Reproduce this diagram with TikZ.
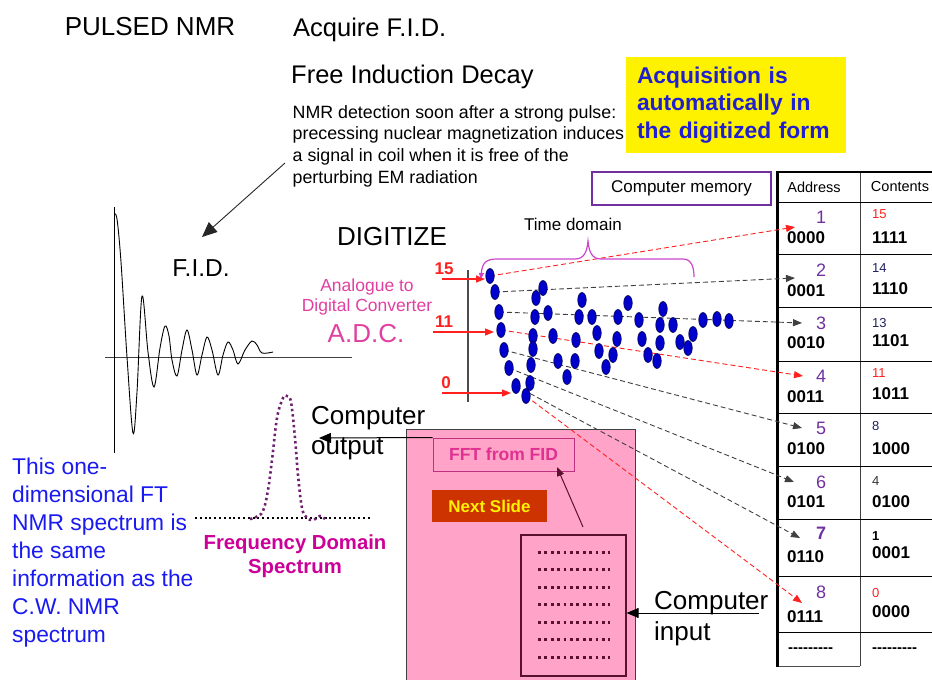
\documentclass[tikz,border=0pt]{standalone}
\usepackage{fontspec}
\setmainfont{Liberation Sans}
\usetikzlibrary{shapes.geometric,arrows.meta}
\definecolor{adcmag}{HTML}{E040A0}
\definecolor{fdmag}{HTML}{CC0099}
\definecolor{addrpur}{HTML}{7030A0}
\definecolor{pinkfill}{HTML}{FFA3C8}
\definecolor{dotblue}{HTML}{0000CC}
\definecolor{dotedge}{HTML}{000050}
\definecolor{txtblue}{HTML}{1A1AF0}
\definecolor{ybluetxt}{HTML}{2020D0}
\definecolor{navy}{HTML}{202060}
\definecolor{nextfill}{HTML}{CC3300}
\definecolor{maroon}{HTML}{5A1030}
\definecolor{bracemag}{HTML}{CC44CC}
\definecolor{dred}{HTML}{FF2020}
\definecolor{specpur}{HTML}{702070}
\definecolor{fftmag}{HTML}{E03090}
\definecolor{fftedge}{HTML}{C03080}
\newcommand{\fs}[2]{\fontsize{#1}{#2}\selectfont}
\newcommand{\hy}{\hbox{-}}
\begin{document}
\begin{tikzpicture}[x=1pt,y=-1pt,
  every node/.style={inner sep=0pt},
  blob/.style={ellipse, minimum width=8.5pt, minimum height=15pt, fill=dotblue, draw=dotedge, line width=0.6pt},
  reddash/.style={draw=dred, dash pattern=on 5pt off 3pt, line width=0.9pt, -{Triangle[length=9pt,width=7pt]}},
  blackdash/.style={draw=black!75, dash pattern=on 5pt off 3pt, line width=0.9pt, -{Triangle[length=9pt,width=7pt]}},
  redarrow/.style={draw=dred, line width=1.2pt, -{Triangle[length=9pt,width=7pt]}},
  blackarrow/.style={draw=black, line width=1pt, -{Triangle[length=12pt,width=10pt]}},
  addrnum/.style={text=addrpur, anchor=center},
  binval/.style={font=\bfseries\fs{17}{20}, anchor=west},
  tline/.style={draw=black, line width=1pt}]
\useasboundingbox (0,0) rectangle (932,680);

% ---------- titles ----------
\node[font=\fs{26}{29}] (pulsed) at (150,27) {PULSED NMR};
\node[font=\fs{25.5}{28}, anchor=base west] (acq) at (293,36) {Acquire F.I.D.};
\node[font=\fs{25.5}{28}, anchor=base west] (fid) at (291,83) {Free Induction Decay};
\node[font=\fs{17.8}{21.6}, anchor=base west, align=left] (para) at (292.5,183)
  {NMR detection soon after a strong pulse:\\precessing nuclear magnetization induces\\a signal in coil when it is free of the\\perturbing EM radiation};

% ---------- yellow box ----------
\node[fill=yellow, minimum width=220pt, minimum height=96pt, text width=198pt, inner xsep=11pt,
  align=left, font=\bfseries\fs{22.8}{27.5}, text=ybluetxt] (ybox) at (736,105)
  {Acquisition is\\automatically in\\the digitized form};

% ---------- computer memory ----------
\node[draw=addrpur, line width=1.2pt, minimum width=179pt, minimum height=33pt, font=\fs{17}{20}] (mem) at (681.5,188.5) {Computer memory};

% ---------- FID ----------
\draw[draw=black!75, line width=1pt] (105,357) -- (352,357);
\draw[draw=black, line width=1pt] (114,207) -- (114,453);
\draw[line width=0.9pt] plot[smooth, tension=0.55] coordinates {
 (114,214) (117,219) (121,262) (127,357) (133,433) (137,392) (142,296) (148,352)
 (154,387) (160,348) (165,326) (169,336) (172,360) (177,376) (182,350) (187,330)
 (192,350) (197,375) (202,355) (207,337) (212,350) (218,375) (223,355) (228,342)
 (233,350) (238,364) (245,350) (252,341) (257,345) (262,353) (273,352)};
\node[font=\fs{24.5}{26}] (fidlbl) at (201,268) {F.I.D.};
\coordinate (pstart) at (285,163);
\coordinate (ptip) at (202,237);
\draw[draw=black!85, line width=0.9pt, -{Triangle[length=15pt,width=13pt]}] (pstart) -- (ptip);

% ---------- ADC ----------
\node[font=\fs{26}{29}] (digit) at (392,237) {DIGITIZE};
\node[font=\fs{17.5}{20.5}, text=adcmag, align=center] (adcname) at (367,297) {Analogue to\\Digital Converter};
\node[font=\fs{26}{29}, text=adcmag] (adc) at (366,334) {A.D.C.};
\node[font=\bfseries\fs{17}{20}, text=dred] (l15) at (444,269) {15};
\node[font=\bfseries\fs{17}{20}, text=dred] (l11) at (444,322) {11};
\node[font=\bfseries\fs{17}{20}, text=dred] (l0) at (446,383) {0};
\draw[draw=black!70, line width=1.2pt] (468,270) -- (468,402);

% ---------- pink computer ----------
\draw[fill=pinkfill, draw=black!75, line width=1pt] (406,429) rectangle (635,690);
\node[draw=fftedge, line width=1pt, minimum width=141pt, minimum height=33pt, font=\bfseries\fs{17.5}{20}, text=fftmag] (fft) at (503.5,454.5) {FFT from FID};
\node[fill=nextfill, minimum width=115pt, minimum height=32pt, font=\bfseries\fs{17}{20}, text=yellow] (next) at (489.5,506) {Next Slide};
\node[draw=maroon, line width=1.2pt, minimum width=105pt, minimum height=141pt] (inner) at (573.5,605.5) {};
\foreach \k in {0,...,6}
  \draw[draw=maroon, dash pattern=on 2.8pt off 3.6pt, line width=3pt] (538,{552+17.5*\k}) -- (610,{552+17.5*\k});
\coordinate (istart) at (583,527);
\coordinate (itip) at (557,467);
\draw[draw=maroon, line width=1pt, -{Triangle[length=9pt,width=7pt]}] (istart) -- (itip);

\node[font=\fs{26}{30}, anchor=base west, align=left] (cout) at (311,454) {Computer\\output};
\coordinate (couttip) at (319,438);
\draw[blackarrow] (fft.north west) -- (couttip);
\node[font=\fs{26}{31}, anchor=base west, align=left] (cin) at (654,640) {Computer\\input};
\coordinate (cinstart) at (759,613);
\draw[blackarrow] (cinstart) -- (cinstart -| inner.east);

% ---------- spectrum ----------
\draw[draw=black, line width=2pt, dash pattern=on 2pt off 2.8pt] (195,518) -- (370,518);
\draw[draw=specpur, line width=2.6pt, dash pattern=on 2.4pt off 3pt] plot[smooth, tension=0.6] coordinates {
 (250,519) (256,517) (263,511) (268,490) (272,460) (277,418) (283,398) (287,396) (291,402)
 (295,438) (298,475) (302,508) (307,518) (313,520) (320,516) (325,519)};
\node[font=\bfseries\fs{20.3}{24.5}, text=fdmag, align=center] (fdlbl) at (295,556) {Frequency Domain\\Spectrum};
\node[font=\fs{22.8}{28}, text=txtblue, anchor=base west, align=left] (note) at (12,642)
  {This one-\\dimensional FT\\NMR spectrum is\\the same\\information as the\\C.W. NMR\\spectrum};

% ---------- table ----------
\draw[draw=black!75, line width=1pt] (860,172) -- (860,666);
\foreach \yy in {202,254,307,361,413,466,519,576,632}
  \draw[tline] (777,\yy) -- (935,\yy);
\draw[draw=black!70, line width=1pt] (777,666) -- (860,666);
\draw[draw=black, line width=2.5pt] (776,172) -- (935,172);
\draw[draw=black, line width=3pt] (777,171) -- (777,667);
\node[font=\fs{14.5}{17}] (haddr) at (814,187) {Address};
\node[font=\fs{14.5}{17}] (hcont) at (900,187) {Contents};

\foreach \r/\ny/\by/\bin/\cv/\cy/\cby/\cbin/\ccol/\nst in {
  1/217/238/0000/15/214/238/1111/dred/\mdseries,
  2/270/291/0001/14/268/289/1110/navy/\mdseries,
  3/323/343/0010/13/323/341/1101/navy/\mdseries,
  4/376/397/0011/11/373/394/1011/dred/\mdseries,
  5/428/449/0100/8/426/449/1000/navy/\mdseries,
  6/482/502/0101/4/481/502/0100/black!80/\mdseries,
  7/533/557/0110/1/536/553/0001/black/\bfseries,
  8/592/617/0111/0/593/612/0000/dred/\mdseries}{
  \node[addrnum, font=\fs{18}{20}\nst] (n\r) at (821,\ny) {\r};
  \node[binval] (b\r) at (787,\by) {\bin};
  \node[font=\fs{13}{15}\nst, text=\ccol, anchor=west] (c\r) at (872,\cy) {\cv};
  \node[binval] (v\r) at (872,\cby) {\cbin};
}
\node[font=\bfseries\fs{15}{18}, anchor=west] (bend) at (788,650) {\hy\hy\hy\hy\hy\hy\hy\hy\hy};
\node[font=\bfseries\fs{15}{18}, anchor=west] (vend) at (872,650) {\hy\hy\hy\hy\hy\hy\hy\hy\hy};

% ---------- digitized points ----------
\coordinate (p15) at (490,276);
\coordinate (p14) at (495,292);
\coordinate (p13) at (499,312);
\coordinate (p11) at (501,330);
\coordinate (p8) at (504,350);
\coordinate (p4) at (509,368);
\coordinate (p1) at (516,386);
\coordinate (p0) at (526,396);
\coordinate (a1) at (795,227);
\coordinate (a2) at (795,278);
\coordinate (a3) at (802,323);
\coordinate (a4) at (803,376);
\coordinate (a5) at (802,428);
\coordinate (a6) at (794,482);
\coordinate (a7) at (800,538);
\coordinate (a8) at (802,603);
\draw[reddash] (p15) -- (a1);
\draw[blackdash] (p14) -- (a2);
\draw[blackdash] (p13) -- (a3);
\draw[reddash] (p11) -- (a4);
\draw[blackdash] (p8) -- (a5);
\draw[blackdash] (p4) -- (a6);
\draw[blackdash] (p1) -- (a7);
\draw[reddash] (p0) -- (a8);

\coordinate (s15) at (442,279);
\coordinate (s11) at (433,332);
\coordinate (s0) at (442,393);
\draw[redarrow] (s15) -- (485,279);
\draw[redarrow] (s11) -- (494,332);
\draw[redarrow] (s0) -- (511,393);

\foreach \q in {p15,p14,p13,p11,p8,p4,p1,p0}
  \node[blob] (b-\q) at (\q) {};
\foreach \xx/\yy [count=\i] in {543/288,536/298,582/300,535/317,548/313,579/317,592/317,618/317,628/303,
  639/320,663/309,660/325,673/325,703/320,717/319,729/321,533/336,553/336,576/340,597/333,617/339,
  642/339,660/343,680/342,693/334,688/348,533/349,599/351,613/355,648/355,657/361,531/365,558/361,
  575/361,567/377,606/367,530/383}
  \node[blob] (d\i) at (\xx,\yy) {};

% ---------- brace ----------
\draw[draw=bracemag, line width=1.2pt, {Triangle[length=6pt,width=5pt]}-]
  (481,279) .. controls (482,263) and (486,259) .. (497,259) -- (575,259)
  .. controls (584,259) and (587,252) .. (588,241)
  .. controls (589,252) and (592,259) .. (601,259) -- (683,259)
  .. controls (692,259) and (694,268) .. (694,277);
\node[font=\fs{17}{20}] (tdom) at (573,224) {Time domain};
\end{tikzpicture}
\end{document}
